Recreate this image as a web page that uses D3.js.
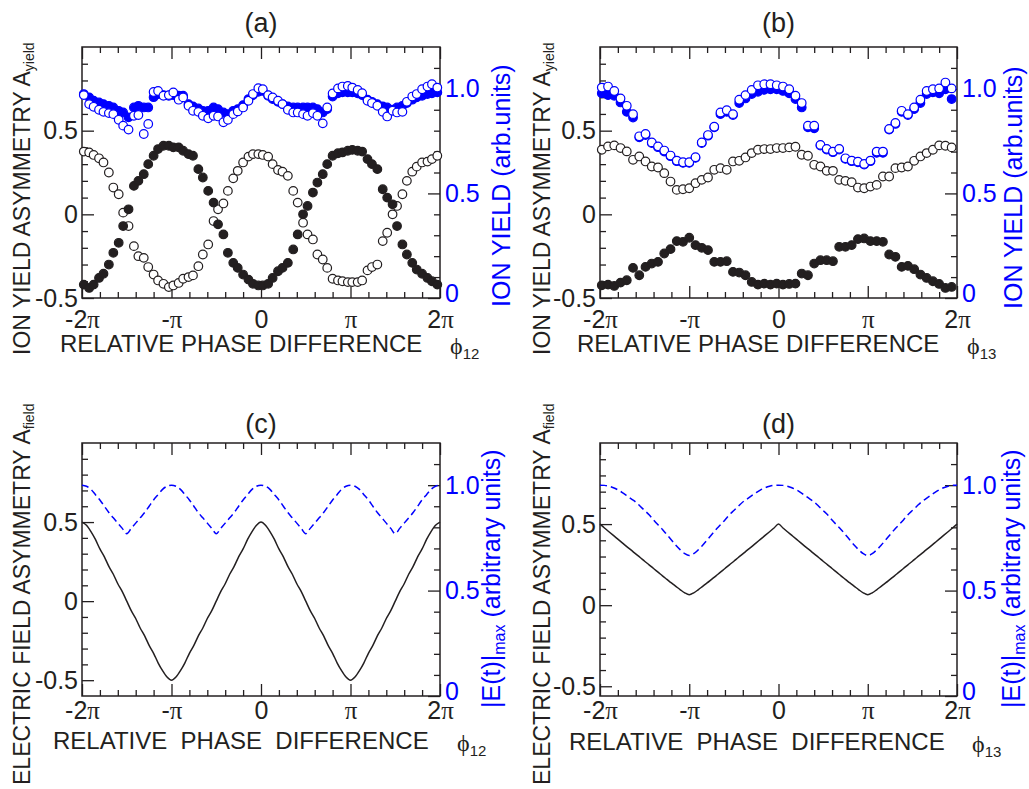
<!DOCTYPE html>
<html>
<head>
<meta charset="utf-8">
<script src="https://cdn.jsdelivr.net/npm/d3@7"></script>
<style>
body { margin: 0; background: #fff; }
text { font-family: "Liberation Sans", Arial, Helvetica, sans-serif; }
</style>
</head>
<body>
<svg id="fig" width="1029" height="789"></svg>
<script>
// phase values are in units of pi

// panel (a): phi12 scan
var phaseA = [-1.98,-1.92,-1.87,-1.81,-1.76,-1.70,-1.65,-1.59,-1.54,-1.48,-1.42,-1.37,-1.31,-1.26,-1.20,-1.15,-1.09,-1.03,
  -0.98,-0.92,-0.87,-0.81,-0.76,-0.70,-0.65,-0.59,-0.53,-0.48,-0.42,-0.37,-0.31,-0.26,-0.20,-0.14,-0.09,-0.03,
  0.02,0.08,0.13,0.19,0.24,0.30,0.36,0.41,0.47,0.52,0.58,0.63,0.69,0.74,0.80,0.86,0.91,0.97,
  1.02,1.08,1.13,1.19,1.24,1.30,1.36,1.41,1.47,1.52,1.58,1.63,1.69,1.74,1.80,1.86,1.91,1.97];
var asymA_filled = [-0.42,-0.44,-0.42,-0.38,-0.355,-0.30,-0.23,-0.17,-0.07,0.03,0.17,0.20,0.24,0.30,0.35,0.39,0.41,0.41,
  0.40,0.40,0.38,0.36,0.35,0.27,0.22,0.14,0.07,-0.06,-0.12,-0.23,-0.29,-0.32,-0.36,-0.39,-0.415,-0.425,
  -0.425,-0.415,-0.38,-0.34,-0.32,-0.29,-0.21,-0.12,0.0,0.05,0.13,0.19,0.24,0.30,0.35,0.365,0.37,0.38,
  0.385,0.38,0.375,0.33,0.30,0.27,0.15,0.10,0.06,-0.07,-0.18,-0.24,-0.29,-0.33,-0.355,-0.38,-0.40,-0.42];
var asymA_open = [0.375,0.37,0.355,0.335,0.31,0.25,0.16,0.12,0.01,-0.07,-0.19,-0.25,-0.26,-0.315,-0.36,-0.395,-0.415,-0.435,
  -0.425,-0.41,-0.385,-0.375,-0.365,-0.31,-0.24,-0.18,-0.04,0.03,0.065,0.14,0.215,0.26,0.31,0.345,0.36,0.36,
  0.355,0.345,0.30,0.265,0.255,0.23,0.14,0.07,-0.05,-0.12,-0.15,-0.24,-0.27,-0.32,-0.385,-0.395,-0.40,-0.405,
  -0.405,-0.405,-0.395,-0.335,-0.315,-0.30,-0.16,-0.11,0.0,0.05,0.12,0.20,0.255,0.285,0.31,0.315,0.33,0.35];
var yieldA_filled = [0.975,0.959,0.943,0.935,0.927,0.919,0.911,0.895,0.887,0.864,0.911,0.919,0.911,0.911,0.96,0.975,0.97,0.967,
  0.97,0.967,0.967,0.927,0.916,0.906,0.895,0.895,0.911,0.903,0.887,0.879,0.895,0.903,0.922,0.951,0.97,0.986,
  0.99,0.967,0.951,0.938,0.927,0.916,0.911,0.911,0.911,0.911,0.911,0.903,0.887,0.903,0.963,0.979,0.983,0.983,
  0.983,0.979,0.97,0.948,0.938,0.927,0.916,0.911,0.90,0.911,0.919,0.932,0.948,0.959,0.967,0.975,0.979,0.983];
var yieldA_open = [0.97,0.927,0.914,0.90,0.89,0.884,0.879,0.852,0.824,0.805,0.871,0.875,0.784,0.832,0.985,0.99,0.967,0.97,
  0.983,0.948,0.959,0.919,0.895,0.89,0.871,0.859,0.871,0.868,0.84,0.852,0.879,0.892,0.911,0.943,0.975,1.003,
  0.998,0.97,0.959,0.943,0.927,0.90,0.887,0.887,0.879,0.871,0.884,0.871,0.835,0.911,0.978,1.002,1.011,1.014,
  1.006,0.995,0.979,0.943,0.932,0.919,0.89,0.868,0.895,0.887,0.89,0.938,0.963,0.975,0.998,1.011,1.022,1.006];

// panel (b): phi13 scan
var phaseB = [-1.98,-1.91,-1.84,-1.77,-1.70,-1.63,-1.56,-1.49,-1.42,-1.35,-1.28,-1.21,-1.14,-1.07,-1.00,-0.93,-0.86,-0.79,-0.72,
  -0.65,-0.58,-0.51,-0.44,-0.37,-0.30,-0.23,-0.16,-0.09,-0.02,0.05,0.12,0.19,0.26,0.33,0.40,0.47,0.54,0.61,
  0.68,0.75,0.82,0.89,0.96,1.03,1.10,1.17,1.24,1.31,1.38,1.45,1.52,1.59,1.66,1.73,1.80,1.87,1.94];
var asymB_filled = [-0.424,-0.42,-0.428,-0.408,-0.394,-0.32,-0.364,-0.314,-0.294,-0.284,-0.234,-0.208,-0.16,-0.164,-0.14,-0.184,-0.20,-0.214,-0.284,
  -0.284,-0.28,-0.344,-0.348,-0.364,-0.404,-0.42,-0.414,-0.42,-0.414,-0.42,-0.416,-0.414,-0.354,-0.364,-0.294,-0.274,-0.274,-0.28,
  -0.194,-0.194,-0.184,-0.148,-0.144,-0.16,-0.16,-0.164,-0.24,-0.254,-0.314,-0.308,-0.328,-0.36,-0.38,-0.40,-0.416,-0.44,-0.434];
var asymB_open = [0.386,0.406,0.412,0.396,0.376,0.326,0.346,0.316,0.286,0.28,0.246,0.196,0.146,0.15,0.156,0.186,0.206,0.22,0.266,
  0.276,0.266,0.316,0.32,0.34,0.366,0.386,0.39,0.39,0.396,0.396,0.40,0.404,0.356,0.35,0.296,0.286,0.26,0.26,
  0.206,0.20,0.192,0.16,0.156,0.166,0.176,0.226,0.226,0.276,0.28,0.286,0.32,0.346,0.366,0.386,0.412,0.41,0.40];
var yieldB_filled = [0.979,0.97,0.967,0.935,0.89,0.863,0.768,0.779,0.741,0.721,0.70,0.678,0.654,0.646,0.646,0.67,0.741,0.776,0.816,
  0.879,0.89,0.875,0.932,0.954,0.975,0.986,0.995,0.998,0.998,0.99,0.979,0.951,0.911,0.816,0.811,0.729,0.71,0.697,
  0.71,0.665,0.654,0.649,0.638,0.654,0.694,0.694,0.805,0.832,0.89,0.875,0.903,0.932,0.975,0.983,0.979,0.998,0.951];
var yieldB_open = [1.006,1.011,0.99,0.954,0.919,0.879,0.773,0.784,0.744,0.725,0.705,0.681,0.657,0.649,0.649,0.673,0.744,0.779,0.819,
  0.887,0.898,0.879,0.948,0.97,0.995,1.017,1.022,1.022,1.017,1.011,0.998,0.967,0.932,0.824,0.824,0.732,0.713,0.70,
  0.713,0.668,0.657,0.652,0.641,0.657,0.70,0.70,0.808,0.837,0.895,0.879,0.911,0.948,0.99,0.998,1.002,1.03,1.002];

// panels (c) and (d): calculated field asymmetry and peak field
var phaseCalc = [-2.00,-1.95,-1.90,-1.85,-1.80,-1.75,-1.70,-1.65,-1.60,-1.55,-1.50,-1.45,-1.40,-1.35,-1.30,-1.25,-1.20,-1.15,-1.10,-1.05,
  -1.00,-0.95,-0.90,-0.85,-0.80,-0.75,-0.70,-0.65,-0.60,-0.55,-0.50,-0.45,-0.40,-0.35,-0.30,-0.25,-0.20,-0.15,-0.10,-0.05,
  0.00,0.05,0.10,0.15,0.20,0.25,0.30,0.35,0.40,0.45,0.50,0.55,0.60,0.65,0.70,0.75,0.80,0.85,0.90,0.95,
  1.00,1.05,1.10,1.15,1.20,1.25,1.30,1.35,1.40,1.45,1.50,1.55,1.60,1.65,1.70,1.75,1.80,1.85,1.90,1.95,2.00];
var fieldAsymC = [0.50,0.48,0.44,0.39,0.33,0.28,0.22,0.17,0.11,0.06,0.00,-0.06,-0.11,-0.17,-0.22,-0.28,-0.33,-0.39,-0.44,-0.48,
  -0.50,-0.48,-0.44,-0.39,-0.33,-0.28,-0.22,-0.17,-0.11,-0.06,0.00,0.06,0.11,0.17,0.22,0.28,0.33,0.39,0.44,0.48,
  0.50,0.48,0.44,0.39,0.33,0.28,0.22,0.17,0.11,0.06,0.00,-0.06,-0.11,-0.17,-0.22,-0.28,-0.33,-0.39,-0.44,-0.48,
  -0.50,-0.48,-0.44,-0.39,-0.33,-0.28,-0.22,-0.17,-0.11,-0.06,0.00,0.06,0.11,0.17,0.22,0.28,0.33,0.39,0.44,0.48,0.50];
var fieldMaxC = [1.00,0.995,0.98,0.955,0.93,0.90,0.87,0.845,0.82,0.795,0.77,0.795,0.82,0.845,0.87,0.90,0.93,0.955,0.98,0.995,
  1.00,0.995,0.98,0.955,0.93,0.90,0.87,0.845,0.82,0.795,0.77,0.795,0.82,0.845,0.87,0.90,0.93,0.955,0.98,0.995,
  1.00,0.995,0.98,0.955,0.93,0.90,0.87,0.845,0.82,0.795,0.77,0.795,0.82,0.845,0.87,0.90,0.93,0.955,0.98,0.995,
  1.00,0.995,0.98,0.955,0.93,0.90,0.87,0.845,0.82,0.795,0.77,0.795,0.82,0.845,0.87,0.90,0.93,0.955,0.98,0.995,1.00];
var fieldAsymD = [0.500,0.476,0.453,0.430,0.407,0.384,0.361,0.339,0.316,0.294,0.271,0.249,0.226,0.204,0.181,0.159,0.137,0.116,0.095,0.076,
  0.065,0.076,0.095,0.116,0.137,0.159,0.181,0.204,0.226,0.249,0.271,0.294,0.316,0.339,0.361,0.384,0.407,0.430,0.453,0.476,
  0.500,0.476,0.453,0.430,0.407,0.384,0.361,0.339,0.316,0.294,0.271,0.249,0.226,0.204,0.181,0.159,0.137,0.116,0.095,0.076,
  0.065,0.076,0.095,0.116,0.137,0.159,0.181,0.204,0.226,0.249,0.271,0.294,0.316,0.339,0.361,0.384,0.407,0.430,0.453,0.476,0.500];
var fieldMaxD = [1.000,0.999,0.995,0.988,0.978,0.965,0.95,0.935,0.92,0.90,0.88,0.86,0.835,0.812,0.79,0.765,0.74,0.715,0.693,0.675,
  0.666,0.675,0.693,0.715,0.74,0.765,0.79,0.812,0.835,0.86,0.88,0.90,0.92,0.935,0.95,0.965,0.978,0.988,0.995,0.999,
  1.000,0.999,0.995,0.988,0.978,0.965,0.95,0.935,0.92,0.90,0.88,0.86,0.835,0.812,0.79,0.765,0.74,0.715,0.693,0.675,
  0.666,0.675,0.693,0.715,0.74,0.765,0.79,0.812,0.835,0.86,0.88,0.90,0.92,0.935,0.95,0.965,0.978,0.988,0.995,0.999,1.000];

// tick values
var phaseTicks = [-2, -1, 0, 1, 2];
var phaseMinor = [-1.8,-1.6,-1.4,-1.2,-0.8,-0.6,-0.4,-0.2,0.2,0.4,0.6,0.8,1.2,1.4,1.6,1.8];
var asymTicks = [-0.5, 0, 0.5];
var asymMinor = [-0.4,-0.3,-0.2,-0.1,0.1,0.2,0.3,0.4,0.6,0.7,0.8,0.9];
var yieldTicks = [0, 0.5, 1.0];
var yieldMinor = [0.1,0.2,0.3,0.4,0.6,0.7,0.8,0.9,1.1];

var ink = "#231f20";
var blue = "#0000ff";
var svg = d3.select("#fig");

function phaseLabel(sel) {
  sel.each(function(v) {
    var t = d3.select(this);
    t.text(null);
    if (v == 0) { t.text("0"); return; }
    var pre = (v < 0 ? "-" : "") + (Math.abs(v) == 1 ? "" : Math.abs(v));
    if (pre) t.append("tspan").text(pre);
    t.append("tspan").style("font-family", "'Liberation Serif', 'Times New Roman', serif").text("\u03c0");
  });
}

// draws box, axes and all text of one panel, returns the scales
function makePanel(p) {
  var w = p.x1 - p.x0, h = p.y1 - p.y0;
  var x = d3.scaleLinear().domain([-2, 2]).range([0, w]);
  var yL = d3.scaleLinear().domain(p.left).range([h, 0]);
  var yR = d3.scaleLinear().domain([0, 1.2]).range([h, 0]);

  var g = svg.append("g").attr("transform", "translate(" + p.x0 + "," + p.y0 + ")");

  function ax(axis, tx, ty) {
    var a = g.append("g").attr("transform", "translate(" + tx + "," + ty + ")")
      .call(axis).attr("color", ink).attr("font-size", 25);
    a.select(".domain").remove();
    a.selectAll("line").attr("stroke-width", 1.3);
    return a;
  }

  // bottom / top
  var xb = ax(d3.axisBottom(x).tickValues(phaseTicks).tickSize(-12).tickPadding(p.xPad), 0, h);
  xb.selectAll("text").call(phaseLabel);
  ax(d3.axisBottom(x).tickValues(phaseMinor).tickSize(-6).tickFormat(""), 0, h);
  ax(d3.axisTop(x).tickValues(phaseTicks).tickSize(-12).tickFormat(""), 0, 0);
  ax(d3.axisTop(x).tickValues(phaseMinor).tickSize(-6).tickFormat(""), 0, 0);

  // left
  ax(d3.axisLeft(yL).tickValues(asymTicks).tickSize(-12).tickPadding(4)
    .tickFormat(function(d) { return d == 0 ? "0" : String(d); }), 0, 0);
  ax(d3.axisLeft(yL).tickValues(asymMinor).tickSize(-6).tickFormat(""), 0, 0);

  // right
  var yr = ax(d3.axisRight(yR).tickValues(yieldTicks).tickSize(-12).tickPadding(5)
    .tickFormat(function(d) { return d == 0 ? "0" : d.toFixed(1); }), w, 0);
  yr.selectAll("text").attr("fill", blue)
    .attr("y", function(d) { return d == 0 ? -5 : 0; });
  ax(d3.axisRight(yR).tickValues(yieldMinor).tickSize(-6).tickFormat(""), w, 0);

  g.append("rect").attr("width", w).attr("height", h)
    .attr("fill", "none").attr("stroke", ink).attr("stroke-width", 1.5);

  // panel title
  svg.append("text").attr("x", (p.x0 + p.x1) / 2).attr("y", p.titleY)
    .attr("text-anchor", "middle").attr("font-size", 27).attr("fill", ink).text(p.title);

  // x title
  svg.append("text").attr("x", p.xtX).attr("y", p.xtY).attr("font-size", 24)
    .attr("fill", ink).style("white-space", "pre").text(p.xTitle);
  var ph = svg.append("text").attr("x", p.phiX).attr("y", p.xtY + 2).attr("fill", ink);
  ph.append("tspan").attr("font-size", 24).style("font-family", "'Liberation Serif', 'DejaVu Serif', serif").text("\u03d5");
  ph.append("tspan").attr("font-size", 15).attr("dy", 5).text(p.sub);

  // left title
  var lt = svg.append("text").attr("transform", "translate(" + p.ylX + "," + p.ylY + ") rotate(-90)")
    .attr("font-size", 23).attr("fill", ink);
  lt.append("tspan").text(p.leftLabel[0]);
  lt.append("tspan").attr("font-size", 14).attr("dy", 4).text(p.leftLabel[1]);

  // right title
  var rt = svg.append("text").attr("transform", "translate(" + p.yrX + "," + p.yrY + ") rotate(-90)")
    .attr("font-size", 25).attr("fill", blue).style("white-space", "pre");
  rt.append("tspan").text(p.rightLabel[0]);
  if (p.rightLabel.length > 1) {
    rt.append("tspan").attr("font-size", 16).attr("dy", 5).text(p.rightLabel[1]);
    rt.append("tspan").attr("dy", -5).text(p.rightLabel[2]);
  }

  return { g: g, x: x, yL: yL, yR: yR };
}

function dots(pan, xs, ys, y, fill, stroke) {
  pan.g.append("g").selectAll("circle").data(d3.zip(xs, ys)).join("circle")
    .attr("cx", function(d) { return pan.x(d[0]); })
    .attr("cy", function(d) { return y(d[1]); })
    .attr("r", 4.3).attr("fill", fill).attr("stroke", stroke).attr("stroke-width", 1.2);
}

function curve(pan, xs, ys, y, color, dash) {
  var line = d3.line().x(function(d) { return pan.x(d[0]); }).y(function(d) { return y(d[1]); })
    .curve(d3.curveMonotoneX);
  pan.g.append("path").datum(d3.zip(xs, ys)).attr("d", line)
    .attr("fill", "none").attr("stroke", color).attr("stroke-width", 1.5)
    .attr("stroke-dasharray", dash || null);
}

var yieldLabel = ["ION YIELD ASYMMETRY A", "yield"];
var fieldLabel = ["ELECTRIC FIELD ASYMMETRY A", "field"];

var pa = makePanel({ x0: 82, x1: 440, y0: 47, y1: 298, left: [-0.5, 1.0], xPad: 12.5,
  title: "(a)", titleY: 32, xTitle: "RELATIVE PHASE DIFFERENCE", xtX: 60, xtY: 352, phiX: 450, sub: "12",
  ylX: 30, ylY: 355, leftLabel: yieldLabel, yrX: 510, yrY: 307, rightLabel: ["ION YIELD (arb.units)"] });
var pb = makePanel({ x0: 600, x1: 957, y0: 47, y1: 298, left: [-0.5, 1.0], xPad: 12.5,
  title: "(b)", titleY: 32, xTitle: "RELATIVE PHASE DIFFERENCE", xtX: 577, xtY: 352, phiX: 967, sub: "13",
  ylX: 550, ylY: 355, leftLabel: yieldLabel, yrX: 1022, yrY: 309, rightLabel: ["ION YIELD (arb.units)"] });
var pc = makePanel({ x0: 82, x1: 440, y0: 443, y1: 696, left: [-0.6, 1.0], xPad: 5,
  title: "(c)", titleY: 433, xTitle: "RELATIVE  PHASE  DIFFERENCE", xtX: 53, xtY: 749, phiX: 457, sub: "12",
  ylX: 30, ylY: 785, leftLabel: fieldLabel, yrX: 500, yrY: 708, rightLabel: ["|E(t)|", "max", " (arbitrary units)"] });
var pd = makePanel({ x0: 600, x1: 957, y0: 443, y1: 696, left: [-0.56, 1.0], xPad: 5,
  title: "(d)", titleY: 433, xTitle: "RELATIVE  PHASE  DIFFERENCE", xtX: 569, xtY: 750, phiX: 972, sub: "13",
  ylX: 550, ylY: 785, leftLabel: fieldLabel, yrX: 1020, yrY: 708, rightLabel: ["|E(t)|", "max", " (arbitrary units)"] });

// measured data
dots(pa, phaseA, asymA_open, pa.yL, "#fff", ink);
dots(pa, phaseA, asymA_filled, pa.yL, ink, ink);
dots(pa, phaseA, yieldA_filled, pa.yR, blue, blue);
dots(pa, phaseA, yieldA_open, pa.yR, "#fff", blue);

dots(pb, phaseB, asymB_open, pb.yL, "#fff", ink);
dots(pb, phaseB, asymB_filled, pb.yL, ink, ink);
dots(pb, phaseB, yieldB_filled, pb.yR, blue, blue);
dots(pb, phaseB, yieldB_open, pb.yR, "#fff", blue);

// calculations
curve(pc, phaseCalc, fieldMaxC, pc.yR, blue, "7,4");
curve(pc, phaseCalc, fieldAsymC, pc.yL, ink);
curve(pd, phaseCalc, fieldMaxD, pd.yR, blue, "7,4");
curve(pd, phaseCalc, fieldAsymD, pd.yL, ink);
</script>
</body>
</html>
